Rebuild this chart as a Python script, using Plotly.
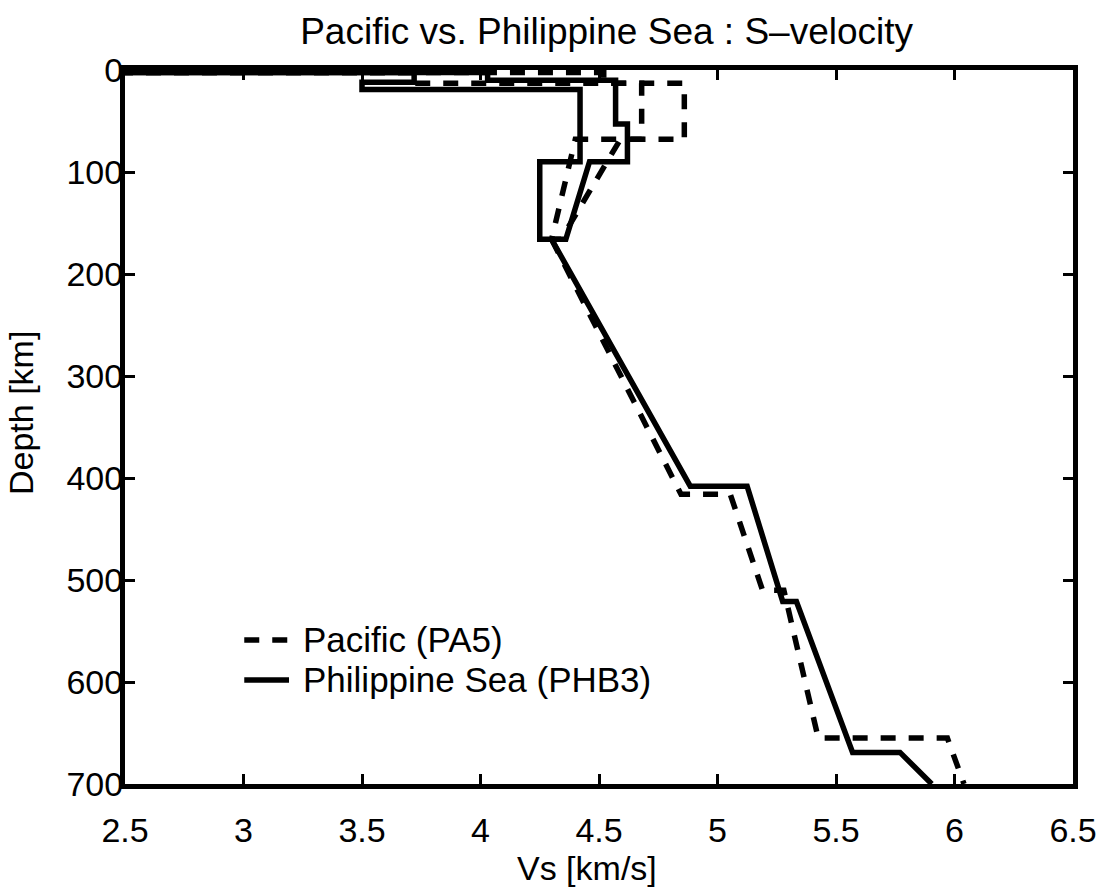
import plotly.graph_objects as go

# Shear-velocity depth profiles (depth in km, Vs in km/s).
# Each model is drawn as two branches in the anisotropic lid
# (slow and fast), which join into one curve below ~166 km.

# Pacific (PA5)
pa5_slow_depth = [0, 2.5, 2.5, 13, 13, 68, 68, 166]
pa5_slow_vs = [0.0, 0.0, 3.72, 3.72, 4.68, 4.68, 4.40, 4.30]

pa5_fast_depth = [0, 2.5, 2.5, 13, 13, 68, 68, 166, 166]
pa5_fast_vs = [0.0, 0.0, 4.52, 4.52, 4.86, 4.86, 4.59, 4.34, 4.30]

pa5_deep_depth = [166, 416, 416, 510, 510, 655, 655, 700]
pa5_deep_vs = [4.30, 4.846, 5.054, 5.19, 5.28, 5.425, 5.97, 6.04]

# Philippine Sea (PHB3)
phb3_slow_depth = [0, 2.5, 2.5, 12, 12, 19, 19, 90, 90, 166, 166]
phb3_slow_vs = [0.0, 0.0, 3.72, 3.72, 3.50, 3.50, 4.42, 4.42, 4.25, 4.25, 4.30]

phb3_fast_depth = [0, 2.5, 2.5, 10, 10, 53, 53, 90, 90, 166, 166]
phb3_fast_vs = [0.0, 0.0, 4.03, 4.03, 4.57, 4.57, 4.62, 4.62, 4.46, 4.36, 4.30]

phb3_deep_depth = [166, 408, 408, 521, 521, 669, 669, 700]
phb3_deep_vs = [4.30, 4.885, 5.125, 5.275, 5.333, 5.57, 5.77, 5.904]

# Axis ticks
x_ticks = [2.5, 3, 3.5, 4, 4.5, 5, 5.5, 6, 6.5]
x_tick_labels = ["2.5", "3", "3.5", "4", "4.5", "5", "5.5", "6", "6.5"]
y_ticks = [0, 100, 200, 300, 400, 500, 600, 700]
y_tick_labels = ["0", "100", "200", "300", "400", "500", "600", "700"]

series_names = ["Pacific (PA5)", "Philippine Sea (PHB3)"]

FONT = "Liberation Sans, Arial, Helvetica, sans-serif"
LW = 5.5
DASH = "15px,13px"
TXT = 34

fig = go.Figure()

pa5_parts = [(pa5_slow_vs, pa5_slow_depth), (pa5_fast_vs, pa5_fast_depth),
             (pa5_deep_vs, pa5_deep_depth)]
phb3_parts = [(phb3_slow_vs, phb3_slow_depth), (phb3_fast_vs, phb3_fast_depth),
              (phb3_deep_vs, phb3_deep_depth)]

for vs, dep in phb3_parts:
    fig.add_trace(go.Scatter(x=vs, y=dep, mode="lines",
                             line=dict(color="black", width=LW),
                             name=series_names[1], showlegend=False,
                             hoverinfo="skip"))
for vs, dep in pa5_parts:
    fig.add_trace(go.Scatter(x=vs, y=dep, mode="lines",
                             line=dict(color="black", width=LW, dash=DASH),
                             name=series_names[0], showlegend=False,
                             hoverinfo="skip"))

axis_common = dict(
    showline=True, linecolor="black", linewidth=5, mirror="ticks",
    ticks="inside", ticklen=10, tickwidth=3, tickcolor="black",
    showgrid=False, zeroline=False,
    tickfont=dict(family=FONT, size=TXT, color="black"),
)

fig.update_xaxes(range=[2.5, 6.5], tickvals=x_ticks, ticktext=x_tick_labels,
                 ticklabelstandoff=12, **axis_common)
fig.update_yaxes(range=[700, 0], tickvals=y_ticks, ticktext=y_tick_labels,
                 ticklabelstandoff=-10, **axis_common)

# Legend drawn inside the axes: line sample plus label
legend_rows = [(0.2017, DASH, series_names[0]), (0.1457, "solid", series_names[1])]
for ypos, dash, label in legend_rows:
    fig.add_shape(type="line", xref="paper", yref="paper",
                  x0=0.1258, x1=0.173, y0=ypos, y1=ypos,
                  line=dict(color="black", width=LW, dash=dash))
    fig.add_annotation(text=label, xref="paper", yref="paper",
                       x=0.1855, y=ypos, xanchor="left", yanchor="middle",
                       showarrow=False,
                       font=dict(family=FONT, size=35, color="black"))

# Axis titles
fig.add_annotation(text="Vs [km/s]", xref="paper", yref="paper",
                   x=0.4874, y=-0.118, xanchor="center", yanchor="middle",
                   showarrow=False, font=dict(family=FONT, size=TXT, color="black"))
fig.add_annotation(text="Depth [km]", xref="paper", yref="paper",
                   x=-0.1097, y=0.5196, xanchor="center", yanchor="middle",
                   textangle=-90, showarrow=False,
                   font=dict(family=FONT, size=TXT, color="black"))

fig.update_layout(
    width=1109, height=888,
    margin=dict(l=125, r=30, t=70, b=104),
    paper_bgcolor="white", plot_bgcolor="white",
    title=dict(text="Pacific vs. Philippine Sea : S\u2013velocity",
               x=0.547, xref="container", xanchor="center",
               y=1 - 31 / 888, yref="container", yanchor="middle",
               font=dict(family=FONT, size=37, color="black")),
    showlegend=False,
)

fig.write_html("out.html")
